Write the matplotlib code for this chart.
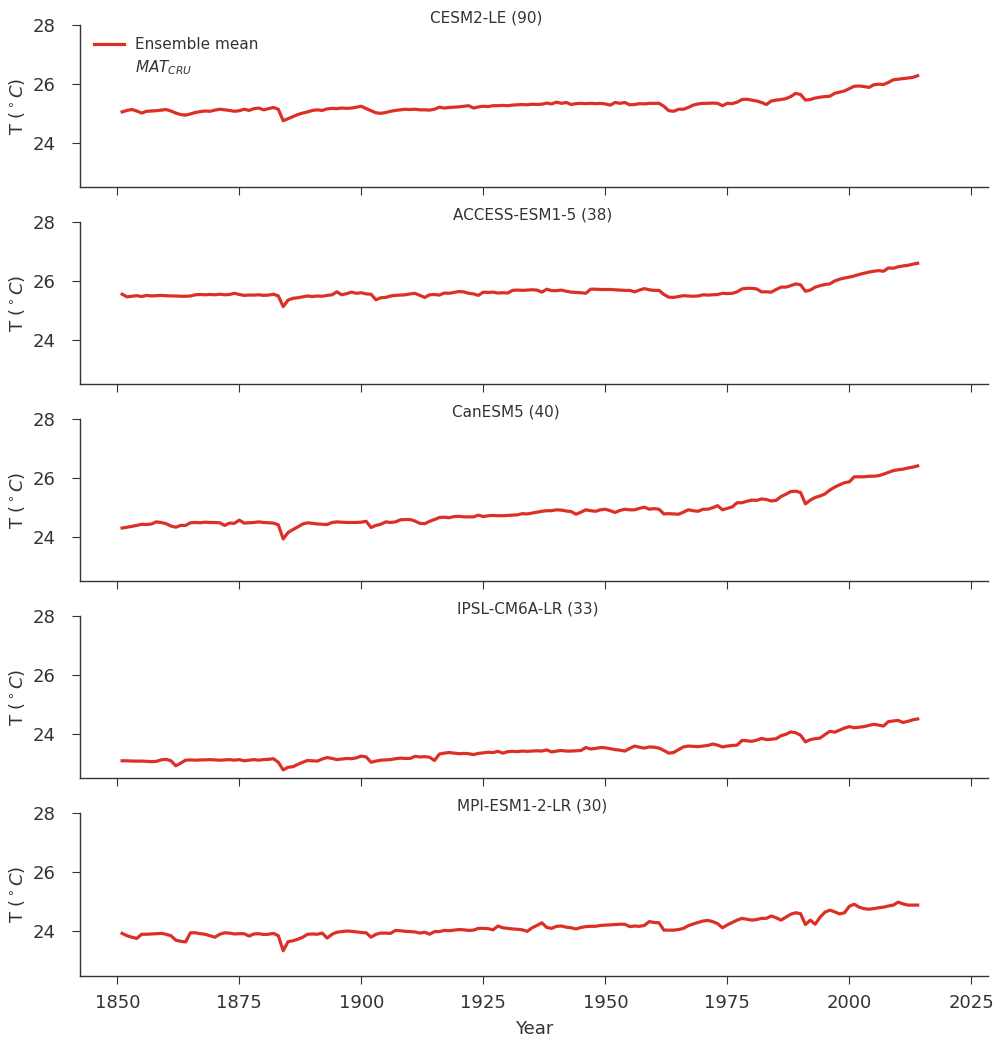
import matplotlib
matplotlib.use("Agg")

import matplotlib.pyplot as plt
import numpy as np

years = np.arange(1851, 2015)

model_names = ["CESM2-LE", "ACCESS-ESM1-5", "CanESM5", "IPSL-CM6A-LR", "MPI-ESM1-2-LR"]
member_counts = [90, 38, 40, 33, 30]

cesm2_le = [
    25.06, 25.11, 25.14, 25.09, 25.02, 25.08, 25.09, 25.10, 25.12, 25.14,
    25.09, 25.02, 24.97, 24.95, 24.99, 25.04, 25.07, 25.09, 25.08, 25.12,
    25.15, 25.13, 25.11, 25.08, 25.10, 25.15, 25.11, 25.17, 25.19, 25.13,
    25.17, 25.21, 25.15, 24.76, 24.83, 24.90, 24.97, 25.02, 25.06, 25.11,
    25.13, 25.11, 25.16, 25.18, 25.17, 25.19, 25.18, 25.19, 25.22, 25.25,
    25.17, 25.10, 25.03, 25.01, 25.04, 25.08, 25.11, 25.13, 25.15, 25.14,
    25.15, 25.13, 25.13, 25.12, 25.15, 25.22, 25.19, 25.21, 25.22, 25.23,
    25.25, 25.27, 25.19, 25.23, 25.25, 25.24, 25.27, 25.27, 25.28, 25.27,
    25.29, 25.30, 25.31, 25.30, 25.32, 25.31, 25.32, 25.36, 25.33, 25.39,
    25.35, 25.38, 25.31, 25.34, 25.35, 25.34, 25.35, 25.34, 25.35, 25.33,
    25.29, 25.38, 25.35, 25.38, 25.30, 25.31, 25.34, 25.33, 25.35, 25.35,
    25.35, 25.25, 25.10, 25.08, 25.15, 25.15, 25.21, 25.29, 25.33, 25.35,
    25.35, 25.36, 25.35, 25.27, 25.35, 25.34, 25.39, 25.48, 25.49, 25.46,
    25.43, 25.38, 25.31, 25.43, 25.46, 25.48, 25.51, 25.58, 25.69, 25.65,
    25.46, 25.48, 25.53, 25.56, 25.58, 25.59, 25.69, 25.73, 25.77, 25.85,
    25.93, 25.94, 25.92, 25.89, 25.98, 26.00, 25.99, 26.06, 26.15, 26.17,
    26.19, 26.21, 26.23, 26.29,
]

access_esm1_5 = [
    25.56, 25.47, 25.49, 25.51, 25.48, 25.52, 25.50, 25.51, 25.52, 25.51,
    25.50, 25.50, 25.49, 25.49, 25.50, 25.54, 25.55, 25.54, 25.55, 25.54,
    25.56, 25.54, 25.55, 25.59, 25.55, 25.52, 25.53, 25.53, 25.54, 25.52,
    25.53, 25.56, 25.50, 25.14, 25.36, 25.42, 25.44, 25.47, 25.50, 25.48,
    25.50, 25.49, 25.52, 25.54, 25.64, 25.54, 25.58, 25.63, 25.59, 25.61,
    25.57, 25.56, 25.37, 25.44, 25.45, 25.50, 25.52, 25.53, 25.54, 25.57,
    25.59, 25.52, 25.45, 25.54, 25.55, 25.53, 25.60, 25.59, 25.62, 25.65,
    25.64, 25.59, 25.57, 25.52, 25.63, 25.62, 25.63, 25.60, 25.61, 25.60,
    25.69, 25.70, 25.69, 25.70, 25.71, 25.70, 25.63, 25.73, 25.68, 25.68,
    25.70, 25.66, 25.63, 25.62, 25.61, 25.59, 25.73, 25.73, 25.72, 25.72,
    25.72, 25.71, 25.70, 25.69, 25.69, 25.64, 25.70, 25.75, 25.71, 25.69,
    25.69, 25.55, 25.46, 25.45, 25.48, 25.51, 25.50, 25.49, 25.50, 25.54,
    25.53, 25.54, 25.55, 25.59, 25.58, 25.59, 25.64, 25.74, 25.76, 25.76,
    25.74, 25.64, 25.64, 25.63, 25.72, 25.80, 25.80, 25.85, 25.91, 25.88,
    25.66, 25.70, 25.80, 25.85, 25.89, 25.91, 26.01, 26.07, 26.11, 26.14,
    26.18, 26.23, 26.27, 26.31, 26.34, 26.36, 26.34, 26.45, 26.44, 26.49,
    26.52, 26.54, 26.58, 26.61,
]

canesm5 = [
    24.31, 24.34, 24.37, 24.40, 24.44, 24.43, 24.45, 24.52, 24.50, 24.46,
    24.38, 24.34, 24.40, 24.40, 24.49, 24.50, 24.49, 24.51, 24.50, 24.50,
    24.49, 24.40, 24.48, 24.47, 24.58, 24.48, 24.49, 24.50, 24.52, 24.50,
    24.49, 24.48, 24.42, 23.94, 24.16, 24.26, 24.35, 24.45, 24.49, 24.47,
    24.45, 24.44, 24.43, 24.50, 24.52, 24.51, 24.50, 24.50, 24.50, 24.51,
    24.54, 24.33, 24.40, 24.44, 24.52, 24.50, 24.52, 24.59, 24.60, 24.60,
    24.55, 24.47, 24.46, 24.54, 24.60, 24.67, 24.68, 24.66, 24.70, 24.71,
    24.69, 24.69, 24.69, 24.75, 24.70, 24.73, 24.74, 24.73, 24.73, 24.74,
    24.75, 24.76, 24.80, 24.79, 24.82, 24.85, 24.88, 24.90, 24.90, 24.93,
    24.92, 24.89, 24.87, 24.78, 24.85, 24.93, 24.90, 24.88, 24.93, 24.95,
    24.90, 24.84, 24.91, 24.95, 24.93, 24.93, 24.98, 25.02, 24.95, 24.97,
    24.95, 24.79, 24.80, 24.79, 24.78, 24.85, 24.93, 24.90, 24.88, 24.95,
    24.95, 25.00, 25.07, 24.93, 24.98, 25.03, 25.17, 25.17, 25.22, 25.26,
    25.25, 25.30, 25.28, 25.23, 25.25, 25.38, 25.46, 25.55, 25.56, 25.52,
    25.13, 25.26, 25.35, 25.40, 25.47, 25.60, 25.70, 25.78, 25.85, 25.88,
    26.05, 26.05, 26.05, 26.07, 26.07, 26.09, 26.14, 26.20, 26.26, 26.29,
    26.31, 26.35, 26.38, 26.42,
]

ipsl_cm6a_lr = [
    23.10, 23.10, 23.09, 23.09, 23.09, 23.08, 23.07, 23.08, 23.13, 23.15,
    23.10, 22.93, 23.02, 23.12, 23.13, 23.12, 23.13, 23.13, 23.14, 23.13,
    23.12, 23.13, 23.14, 23.12, 23.14, 23.10, 23.12, 23.14, 23.12, 23.14,
    23.15, 23.17, 23.05, 22.79, 22.88, 22.90, 22.98, 23.05, 23.11, 23.10,
    23.09, 23.16, 23.21, 23.18, 23.14, 23.16, 23.18, 23.17, 23.20, 23.26,
    23.23, 23.05, 23.09, 23.12, 23.13, 23.14, 23.17, 23.19, 23.18, 23.18,
    23.25, 23.23, 23.24, 23.22, 23.11, 23.33, 23.36, 23.38, 23.36, 23.34,
    23.35, 23.34, 23.31, 23.35, 23.37, 23.39, 23.38, 23.42, 23.36, 23.41,
    23.42, 23.41, 23.43, 23.42, 23.43, 23.44, 23.43, 23.47, 23.40, 23.43,
    23.45, 23.43, 23.43, 23.44, 23.45, 23.55, 23.50, 23.52, 23.55, 23.54,
    23.51, 23.48, 23.46, 23.43, 23.52, 23.60, 23.56, 23.53, 23.57, 23.56,
    23.53, 23.45, 23.36, 23.38, 23.48, 23.57, 23.60, 23.59, 23.58, 23.60,
    23.62, 23.67, 23.63, 23.57, 23.60, 23.62, 23.63, 23.79, 23.78, 23.76,
    23.80, 23.86, 23.82, 23.83, 23.85, 23.95, 24.00, 24.08, 24.05, 23.97,
    23.74, 23.82, 23.85, 23.87, 23.99, 24.10, 24.07, 24.14, 24.21, 24.26,
    24.22, 24.24, 24.26, 24.30, 24.34, 24.31, 24.28, 24.43, 24.45, 24.47,
    24.40, 24.44, 24.49, 24.52,
]

mpi_esm1_2_lr = [
    23.93, 23.85, 23.80, 23.76, 23.90, 23.90, 23.91, 23.92, 23.93, 23.90,
    23.85, 23.70, 23.66, 23.64, 23.95, 23.95, 23.92, 23.90, 23.85, 23.80,
    23.90, 23.95, 23.94, 23.91, 23.92, 23.92, 23.84, 23.91, 23.92, 23.89,
    23.90, 23.93, 23.85, 23.34, 23.65, 23.68, 23.73, 23.80, 23.90, 23.91,
    23.90, 23.94, 23.77, 23.90, 23.97, 23.99, 24.01, 24.00, 23.98, 23.96,
    23.95, 23.80, 23.90, 23.94, 23.94, 23.93, 24.03, 24.02, 24.00, 23.99,
    23.98, 23.94, 23.97, 23.90, 23.99, 23.99, 24.03, 24.02, 24.04, 24.06,
    24.05, 24.03, 24.04, 24.10, 24.10, 24.09, 24.05, 24.18, 24.12, 24.10,
    24.08, 24.07, 24.05, 24.00, 24.12, 24.20, 24.29, 24.13, 24.10, 24.17,
    24.18, 24.14, 24.12, 24.08, 24.13, 24.16, 24.17, 24.17, 24.20, 24.21,
    24.22, 24.23, 24.24, 24.24, 24.16, 24.18, 24.17, 24.20, 24.33, 24.30,
    24.29, 24.04, 24.04, 24.04, 24.06, 24.10, 24.19, 24.25, 24.30, 24.35,
    24.37, 24.33, 24.26, 24.12, 24.22, 24.30, 24.38, 24.44, 24.41, 24.38,
    24.40, 24.44, 24.44, 24.52, 24.46, 24.38, 24.48, 24.58, 24.63, 24.60,
    24.23, 24.38, 24.24, 24.48, 24.65, 24.72, 24.66, 24.59, 24.63, 24.85,
    24.92, 24.82, 24.77, 24.75, 24.77, 24.80, 24.82, 24.86, 24.89, 24.99,
    24.93, 24.89, 24.89, 24.89,
]

series = [cesm2_le, access_esm1_5, canesm5, ipsl_cm6a_lr, mpi_esm1_2_lr]

x_ticks = [1850, 1875, 1900, 1925, 1950, 1975, 2000, 2025]
y_ticks = [24, 26, 28]

TEXT = "#333333"
LINE = "#dc3026"

# left edge of each panel title, as a fraction of the axes width
title_x = [0.385, 0.411, 0.410, 0.415, 0.415]

plt.rcParams.update({
    "font.family": "DejaVu Sans",
    "text.color": TEXT,
    "axes.labelcolor": TEXT,
    "axes.edgecolor": TEXT,
    "xtick.color": TEXT,
    "ytick.color": TEXT,
    "axes.linewidth": 1.0,
    "xtick.major.size": 6,
    "ytick.major.size": 6,
    "xtick.major.pad": 7,
    "ytick.major.pad": 12,
    "xtick.labelsize": 13,
    "ytick.labelsize": 13,
    "axes.labelsize": 13,
    "mathtext.fontset": "dejavusans",
})

fig, axes = plt.subplots(5, 1, figsize=(10.02, 10.44), dpi=100, sharex=True, sharey=True)
fig.subplots_adjust(left=0.080, right=0.986, top=0.9758, bottom=0.0656, hspace=0.216)

for ax, name, n, y, tx in zip(axes, model_names, member_counts, series, title_x):
    ax.plot(years, y, color=LINE, lw=2.3, label="Ensemble mean")
    ax.text(tx, 1.043, f"{name} ({n})", transform=ax.transAxes,
            ha="left", va="center", fontsize=11, color=TEXT)
    ax.set_ylabel(r"T ($^\circ C$)")
    ax.spines["top"].set_visible(False)
    ax.spines["right"].set_visible(False)

axes[0].plot([], [], " ", label=r"$MAT_{CRU}$")
axes[0].legend(loc="upper left", bbox_to_anchor=(0.0, 1.013), frameon=False,
               fontsize=11, handlelength=2.0, handletextpad=0.7, labelspacing=0.4)

axes[-1].set_xlim(1842.4, 2028.4)
axes[-1].set_ylim(22.5, 28)
axes[-1].set_xticks(x_ticks)
axes[-1].set_yticks(y_ticks)
axes[-1].set_xlabel("Year", labelpad=6)

fig.savefig("out.png", dpi=100)
